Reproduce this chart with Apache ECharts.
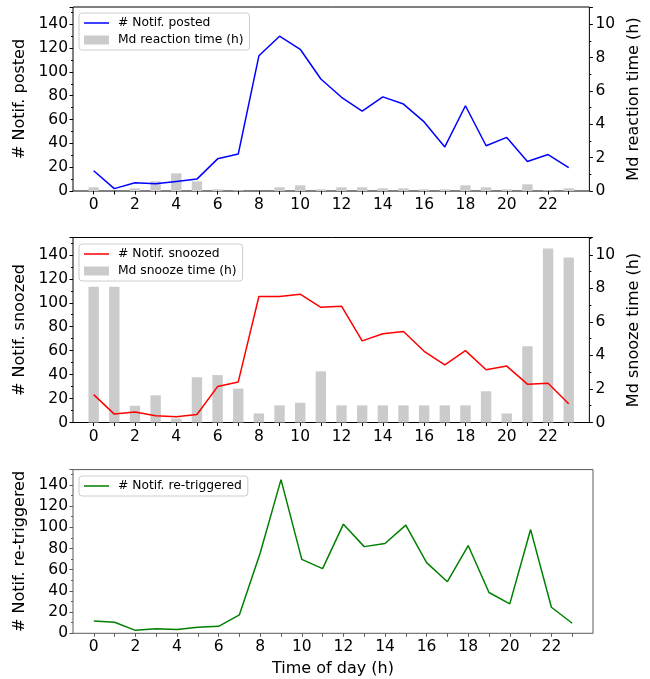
<!DOCTYPE html>
<html>
<head>
<meta charset="utf-8">
<script src="https://cdn.jsdelivr.net/npm/echarts@6/dist/echarts.min.js"></script>
<style>html,body{margin:0;padding:0;background:#fff}#c{width:650px;height:679px}</style>
</head>
<body>
<div id="c"></div>
<script>
const hours = [0,1,2,3,4,5,6,7,8,9,10,11,12,13,14,15,16,17,18,19,20,21,22,23];
const tickLabels = [0,2,4,6,8,10,12,14,16,18,20,22];
const posted = [17,2,7,6,8,10,27,31,113.5,130,119,94,78.7,67,79,73,58,37,71.6,38,45,24.7,30.6,19.7];
const reactionTime = [0.22,0,0.16,0.58,1.06,0.58,0.1,0.04,0,0.22,0.34,0.1,0.22,0.22,0.16,0.16,0.1,0.1,0.34,0.22,0.1,0.4,0.04,0.16];
const snoozed = [23.3,7,8.7,5.6,4.8,6.7,30,33.9,105.2,105.2,107.2,96.2,97.1,68.2,74.1,76,59.5,48.2,60,44,47.1,32,32.8,15.7];
const snoozeTime = [8.1,8.1,1.0,1.62,0.24,2.7,2.83,2.02,0.54,1.02,1.18,3.05,1.02,1.02,1.02,1.02,1.02,1.02,1.02,1.86,0.54,4.55,10.38,9.84];
const retriggered = [11.7,10.4,2.8,4.4,3.5,5.7,6.6,17.4,75.8,145,69.8,61,103,81.8,84.7,102.1,66.7,48.7,82.8,38.5,27.8,97.9,24.6,9.5];

const FONT = 'DejaVu Sans';
const YMAX = 154.5;
const Y2MAX = YMAX / 14;
const grids = [
  {left: 73, right: 57, top: 7, height: 184},
  {left: 73, right: 57, top: 237.5, height: 185},
  {left: 73, right: 57, top: 469.6, height: 163.7}
];
const frameColors = ['#000', '#000', '#5a5a5a'];
// thin horizontal line icon; tiny corner specks fix the bounding box to 25x9
const LINE_ICON = 'path://M0,0 L0.01,0 L0.01,0.01 Z M0,3.7 L25,3.7 L25,5.3 L0,5.3 Z M24.99,8.99 L25,8.99 L25,9 Z';

function xAxis(i) {
  const c = frameColors[i];
  return {
    type: 'value', gridIndex: i, min: -1, max: 24,
    axisLine: {show: false, onZero: false},
    splitLine: {show: false},
    axisTick: {show: true, length: 3.5, lineStyle: {color: c}, customValues: hours},
    axisLabel: {show: true, customValues: tickLabels, margin: 6, color: '#000', fontFamily: FONT, fontSize: 15.5},
    name: i === 2 ? 'Time of day (h)' : '',
    nameLocation: 'middle', nameGap: 28,
    nameTextStyle: {color: '#000', fontFamily: FONT, fontSize: 16}
  };
}
function yLeft(i, name) {
  const c = frameColors[i];
  return {
    type: 'value', gridIndex: i, position: 'left', min: 0, max: YMAX, interval: 20,
    axisLine: {show: false, onZero: false}, splitLine: {show: false},
    axisTick: {show: true, length: 3.5, lineStyle: {color: c}},
    minorTick: {show: true, splitNumber: 2, length: 2, lineStyle: {color: c}},
    axisLabel: {margin: 5, color: '#000', fontFamily: FONT, fontSize: 15.5, showMaxLabel: false},
    name: name, nameLocation: 'middle', nameGap: 34, nameRotate: 90,
    nameTextStyle: {color: '#000', fontFamily: FONT, fontSize: 16}
  };
}
function yRight(i, name) {
  return {
    type: 'value', gridIndex: i, position: 'right', min: 0, max: Y2MAX, interval: 2,
    axisLine: {show: false, onZero: false}, splitLine: {show: false},
    axisTick: {show: true, length: 3.5, lineStyle: {color: '#000'}},
    minorTick: {show: true, splitNumber: 2, length: 2, lineStyle: {color: '#000'}},
    axisLabel: {margin: 6, color: '#000', fontFamily: FONT, fontSize: 15.5, showMaxLabel: false},
    name: name, nameLocation: 'middle', nameGap: 27, nameRotate: 90,
    nameTextStyle: {color: '#000', fontFamily: FONT, fontSize: 16}
  };
}
function legend(top, lineName, barName) {
  const data = [{name: lineName, icon: LINE_ICON}];
  if (barName) data.push({name: barName, icon: 'rect'});
  return {
    orient: 'vertical', left: 79, top: top, data: data,
    itemWidth: 25, itemHeight: 9, itemGap: 5,
    padding: [4, 6, 4, 5],
    borderColor: '#cccccc', borderWidth: 1, borderRadius: 3,
    backgroundColor: 'rgba(255,255,255,0.8)',
    textStyle: {color: '#000', fontFamily: FONT, fontSize: 12.3, padding: [0, 0, 0, 4]}
  };
}
const pair = (arr) => hours.map((h, k) => [h, arr[k]]);
const lineS = (name, arr, color, xi, yi) => ({
  name, type: 'line', xAxisIndex: xi, yAxisIndex: yi, data: pair(arr),
  symbol: 'none', showSymbol: false, z: 5,
  lineStyle: {color, width: 1.5}, itemStyle: {color}
});
const barS = (name, arr, xi, yi) => ({
  name, type: 'bar', xAxisIndex: xi, yAxisIndex: yi, data: pair(arr),
  barWidth: 10.4, z: 2, itemStyle: {color: '#cbcbcb'}
});

const chart = echarts.init(document.getElementById('c'), null, {renderer: 'canvas'});
chart.setOption({
  animation: false,
  backgroundColor: '#fff',
  textStyle: {fontFamily: FONT},
  grid: grids.map((g, i) => Object.assign({show: true, borderColor: frameColors[i], borderWidth: 1, backgroundColor: 'transparent', containLabel: false}, g)),
  xAxis: [xAxis(0), xAxis(1), xAxis(2)],
  yAxis: [
    yLeft(0, '# Notif. posted'), yRight(0, 'Md reaction time (h)'),
    yLeft(1, '# Notif. snoozed'), yRight(1, 'Md snooze time (h)'),
    yLeft(2, '# Notif. re-triggered')
  ],
  legend: [
    legend(13, '# Notif. posted', 'Md reaction time (h)'),
    legend(244, '# Notif. snoozed', 'Md snooze time (h)'),
    legend(476, '# Notif. re-triggered')
  ],
  series: [
    barS('Md reaction time (h)', reactionTime, 0, 1),
    lineS('# Notif. posted', posted, '#0000ff', 0, 0),
    barS('Md snooze time (h)', snoozeTime, 1, 3),
    lineS('# Notif. snoozed', snoozed, '#ff0000', 1, 2),
    lineS('# Notif. re-triggered', retriggered, '#008000', 2, 4)
  ]
});
</script>
</body>
</html>
